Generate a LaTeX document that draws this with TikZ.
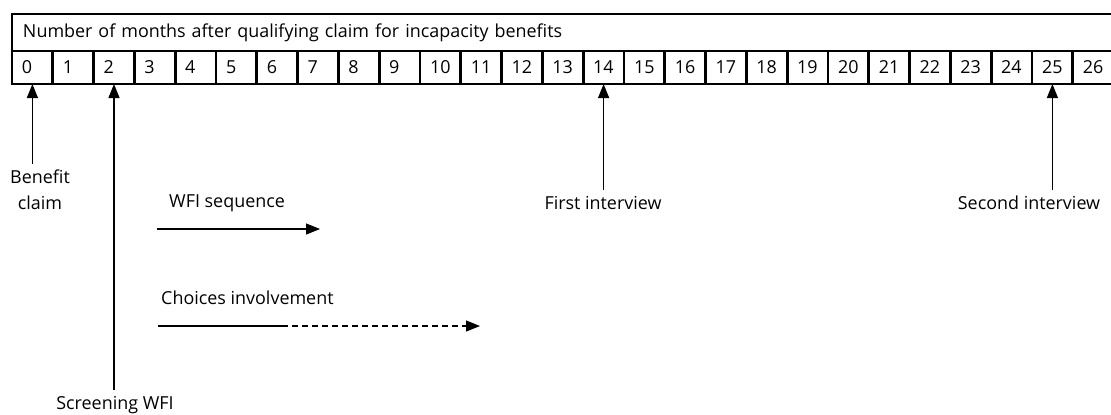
\documentclass[tikz,border=0pt]{standalone}
\usepackage{fontspec}
\setmainfont{Open Sans}
\usetikzlibrary{arrows.meta}

\begin{document}
\begin{tikzpicture}[x=0.02cm, y=-0.02cm,
    every node/.style={font=\fontsize{10.2}{14.7}\selectfont},
    cell/.style={draw, line width=1.5pt, anchor=north west, outer sep=0pt, inner xsep=0.2cm, text width=0.416cm, minimum height=0.66cm, align=left},
    arr/.style={-{Triangle[length=0.28cm, width=0.22cm]}, line width=0.7pt}]
    \path[use as bounding box, clip] (0,0) rectangle (1111,414);
    % table
    \node (head) at (12,14) [draw, line width=1.5pt, anchor=north west, outer sep=0pt, inner xsep=0.22cm, text width=21.59cm, minimum height=0.74cm, align=left] {Number of months after qualifying claim for incapacity benefits};
    \foreach \i in {0,...,26}
        \node (c\i) at ({12+40.8*\i},51) [cell] {\i};
    % events
    \node (benefit) at (40,190) [align=center] {Benefit\\claim};
    \node (screening) at (115,405) {Screening WFI};
    \node (first) at (603,203) {First interview};
    \node (second) at (1029,203) {Second interview};
    \draw[arr] (benefit.north -| c0) -- (c0.south);
    \draw[arr] (screening.north -| c2) -- (c2.south);
    \draw[arr] (first.north -| c14) -- (c14.south);
    \draw[arr] (second.north -| c25) -- (c25.south);
    % sequences
    \node (wfi) at (163,203) [anchor=west] {WFI sequence};
    \coordinate (wfistart) at (157,229);
    \coordinate (wfiend) at (320,229);
    \draw[arr] (wfistart) -- (wfiend);
    \node (choices) at (155,298) [anchor=west] {Choices involvement};
    \coordinate (chstart) at (158,326);
    \coordinate (chmid) at (282,326);
    \coordinate (chend) at (480,326);
    \draw[line width=0.7pt] (chstart) -- (chmid);
    \draw[arr, dash pattern=on 0.12cm off 0.08cm] (chmid) -- (chend);
\end{tikzpicture}
\end{document}
